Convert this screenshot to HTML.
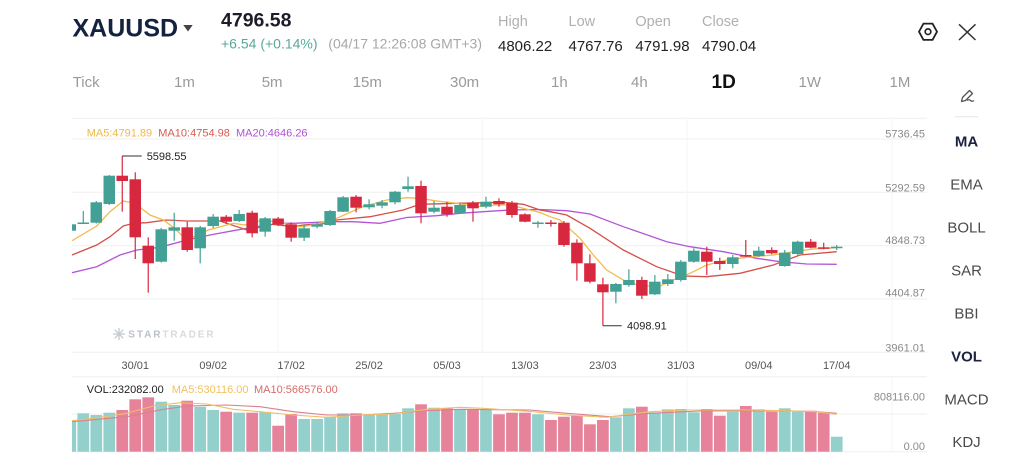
<!DOCTYPE html>
<html><head><meta charset="utf-8"><style>
html,body{margin:0;padding:0;background:#fff;width:1024px;height:471px;overflow:hidden}
svg{display:block}
text{font-family:"Liberation Sans",sans-serif}
</style></head><body>
<svg width="1024" height="471" viewBox="0 0 1024 471" xmlns="http://www.w3.org/2000/svg">
<defs>
<clipPath id="cp"><rect x="72" y="118" width="808" height="240"/></clipPath>
<clipPath id="cv"><rect x="72" y="377" width="808" height="75"/></clipPath>
</defs>
<rect width="1024" height="471" fill="#fff"/>

<!-- Header -->
<text x="72.5" y="36.7" font-size="25" font-weight="700" fill="#14213f">XAUUSD</text>
<polygon points="183.3,25 192.7,25 188,31.5" fill="#444"/>
<text x="221" y="26.7" font-size="19.5" font-weight="700" fill="#1c1c2a">4796.58</text>
<text x="221" y="48.5" font-size="14" fill="#58aa98">+6.54 (+0.14%)</text>
<text x="328.3" y="48.5" font-size="14" fill="#a8a8a8">(04/17 12:26:08 GMT+3)</text>
<g font-size="14.5" fill="#b0b0b0">
<text x="498" y="26">High</text><text x="568.5" y="26">Low</text><text x="635.4" y="26">Open</text><text x="702" y="26">Close</text>
</g>
<g font-size="15" fill="#222">
<text x="498" y="51">4806.22</text><text x="568.5" y="51">4767.76</text><text x="635.4" y="51">4791.98</text><text x="702" y="51">4790.04</text>
</g>
<polygon points="919,31.7 923.5,23.6 932.5,23.6 937,31.7 932.5,39.9 923.5,39.9" fill="none" stroke="#222" stroke-width="1.8" stroke-linejoin="round"/>
<circle cx="928" cy="31.7" r="2.8" fill="none" stroke="#222" stroke-width="1.7"/>
<g stroke="#333" stroke-width="1.5"><line x1="959" y1="24.3" x2="975.5" y2="40"/><line x1="975.5" y1="24.3" x2="959" y2="40"/></g>

<!-- timeframes -->
<g font-size="15" fill="#9a9a9a">
<text x="72.7" y="87">Tick</text><text x="174" y="87">1m</text><text x="261.7" y="87">5m</text><text x="352.7" y="87">15m</text><text x="450" y="87">30m</text>
<text x="551" y="87">1h</text><text x="631" y="87">4h</text><text x="798.5" y="87">1W</text><text x="889.5" y="87">1M</text>
</g>
<text x="711.5" y="88" font-size="19" font-weight="700" fill="#111">1D</text>
<!-- pen icon -->
<g fill="none" stroke="#555" stroke-width="1.3" stroke-linejoin="round">
<path d="M961.5,101.5 L962.5,97.5 L969.5,90.5 L972.5,93.5 L965.5,100.5 Z"/>
<path d="M967,100.5 q2,-1.5 3.5,0 q1.5,1.5 3.5,0"/>
</g>
<line x1="955" y1="116.7" x2="978" y2="116.7" stroke="#e6e6e6" stroke-width="1"/>

<!-- sidebar -->
<g font-size="15" fill="#4a4a4a" text-anchor="middle">
<text x="966.5" y="146.6" font-weight="700" fill="#1b2340">MA</text>
<text x="966.5" y="189.5">EMA</text>
<text x="966.5" y="232.5">BOLL</text>
<text x="966.5" y="275.4">SAR</text>
<text x="966.5" y="318.4">BBI</text>
<text x="966.5" y="361.3" font-weight="700" fill="#1b2340">VOL</text>
<text x="966.5" y="404.3">MACD</text>
<text x="966.5" y="447.2">KDJ</text>
</g>

<!-- grid -->
<g stroke="#efefef" stroke-width="1">
<line x1="72" y1="118.3" x2="927" y2="118.3"/>
<line x1="72" y1="139" x2="927" y2="139"/>
<line x1="72" y1="192.3" x2="927" y2="192.3"/>
<line x1="72" y1="245.7" x2="927" y2="245.7"/>
<line x1="72" y1="299" x2="927" y2="299"/>
<line x1="72" y1="352.3" x2="927" y2="352.3"/>
<line x1="72" y1="376.7" x2="927" y2="376.7"/>
<line x1="72" y1="414" x2="927" y2="414"/>
<line x1="72" y1="451.7" x2="927" y2="451.7"/>
</g>
<g stroke="#f4f4f4" stroke-width="1">
<line x1="278" y1="118" x2="278" y2="352"/><line x1="482.3" y1="118" x2="482.3" y2="352"/><line x1="687" y1="118" x2="687" y2="352"/><line x1="892" y1="118" x2="892" y2="352"/>
<line x1="278" y1="377" x2="278" y2="452"/><line x1="482.3" y1="377" x2="482.3" y2="452"/><line x1="687" y1="377" x2="687" y2="452"/><line x1="892" y1="377" x2="892" y2="452"/>
</g>

<!-- price axis -->
<g font-size="11" fill="#8a8a8a" text-anchor="end">
<text x="925" y="137.3">5736.45</text><text x="925" y="191.3">5292.59</text><text x="925" y="244">4848.73</text><text x="925" y="296.7">4404.87</text><text x="925" y="351.3">3961.01</text>
<text x="925" y="400.7">808116.00</text><text x="925" y="450">0.00</text>
</g>
<!-- x axis -->
<g font-size="11" fill="#555" text-anchor="middle">
<text x="135.25" y="369">30/01</text><text x="213.19" y="369">09/02</text><text x="291.13" y="369">17/02</text><text x="369.07" y="369">25/02</text><text x="447.01" y="369">05/03</text>
<text x="524.95" y="369">13/03</text><text x="602.89" y="369">23/03</text><text x="680.83" y="369">31/03</text><text x="758.77" y="369">09/04</text><text x="836.71" y="369">17/04</text>
</g>

<!-- MA legend -->
<g font-size="11">
<text x="86.7" y="136.3" fill="#f0b849">MA5:4791.89</text>
<text x="158.3" y="136.3" fill="#d65a50">MA10:4754.98</text>
<text x="236" y="136.3" fill="#b050d4">MA20:4646.26</text>
</g>

<!-- watermark -->
<g stroke="#c3cad2" stroke-width="1.3" stroke-linecap="round">
<line x1="119" y1="328.5" x2="119" y2="339.5"/><line x1="113.5" y1="334" x2="124.5" y2="334"/>
<line x1="115.1" y1="330.1" x2="122.9" y2="337.9"/><line x1="122.9" y1="330.1" x2="115.1" y2="337.9"/>
</g>
<text x="128.3" y="337.7" font-size="10" font-weight="700" letter-spacing="1.9"><tspan fill="#b9c1c9">STAR</tspan><tspan fill="#d6dbe0">TRADER</tspan></text>

<g clip-path="url(#cp)">
<!-- MA lines -->
<polyline fill="none" stroke="#b455d8" stroke-width="1.3" points="72,272.7 96.7,266.7 120,255 136.7,250 160,247.3 186.7,240 210,235 233.3,230.7 260,226 280,223.3 293.3,223.3 333.3,221.7 353.3,221.7 380,223.3 406.7,217.5 436.7,215.7 460,213.3 483.3,211.7 510,210 540,209.5 566.7,210.7 590,214 623.3,226.7 666.7,241.7 690,246.7 723.3,251.7 756.7,258.3 780,261.7 806.7,264 836.7,264.3"/>
<polyline fill="none" stroke="#d4504a" stroke-width="1.3" points="72,255 96.7,245 110,236.7 123.3,226 133.3,223.3 146.7,222.7 166.7,220 186.7,221 206.7,221 220,221 246.7,230 273.3,224.3 293.3,226.7 303.3,225 326.7,223.3 336.7,220 370,216.7 403.3,210 420,204.3 456.7,203.3 503.3,202.3 523.3,204.3 540,210 550,211.7 566.7,215 590,228.3 623.3,250 656.7,266.7 683.3,276 706.7,276.7 740,273.3 773.3,265 800,255 836.7,251.7"/>
<polyline fill="none" stroke="#f2bb4a" stroke-width="1.3" points="72,240.7 96.7,226 110,211.7 123.3,201 135,203.3 150,215 163.3,220 173.3,227.3 186.7,240 208.3,230 233.3,223.3 245,225 260,220.7 280,221.7 293.3,226.7 303.3,226.7 326.7,221.7 336.7,218.3 362,207 386.7,200 406.7,197.7 420,198.3 436.7,201 456.7,203.3 476.7,206.7 496.7,205 510,205 530,210 540,212.5 550,216.7 560,220 580,238.3 593.3,255 606.7,270 623.3,280 640,286 660,286 673.3,280 690,273.3 706.7,265 726.7,260 746.7,257.3 773.3,255 793.3,251.7 813.3,249 836.7,247.7"/>

<!-- teal wicks -->
<g stroke="#43a095" stroke-width="1.2">
<line x1="70.3" y1="222" x2="70.3" y2="232"/><line x1="83.29" y1="211" x2="83.29" y2="224"/><line x1="96.28" y1="201" x2="96.28" y2="223.5"/><line x1="109.27" y1="175" x2="109.27" y2="205"/>
<line x1="161.23" y1="228" x2="161.23" y2="262.5"/><line x1="174.22" y1="212.7" x2="174.22" y2="240.7"/><line x1="200.2" y1="226" x2="200.2" y2="263.3"/><line x1="213.19" y1="214" x2="213.19" y2="228"/>
<line x1="239.17" y1="210" x2="239.17" y2="222"/><line x1="265.15" y1="217" x2="265.15" y2="236.7"/><line x1="304.12" y1="224.3" x2="304.12" y2="241"/><line x1="317.11" y1="221.7" x2="317.11" y2="228.3"/>
<line x1="330.1" y1="210" x2="330.1" y2="226"/><line x1="343.09" y1="196" x2="343.09" y2="212"/><line x1="369.07" y1="199.3" x2="369.07" y2="209.3"/><line x1="382.06" y1="200" x2="382.06" y2="208.3"/>
<line x1="395.05" y1="191" x2="395.05" y2="204.3"/><line x1="408.04" y1="176.7" x2="408.04" y2="191.7"/><line x1="434.02" y1="201" x2="434.02" y2="213.3"/><line x1="460" y1="203" x2="460" y2="214"/>
<line x1="485.98" y1="196.7" x2="485.98" y2="208.3"/><line x1="537.94" y1="221" x2="537.94" y2="227.7"/><line x1="615.88" y1="283" x2="615.88" y2="303.3"/><line x1="628.87" y1="269.3" x2="628.87" y2="286.7"/>
<line x1="654.85" y1="275" x2="654.85" y2="295"/><line x1="667.84" y1="274" x2="667.84" y2="286"/><line x1="680.83" y1="260" x2="680.83" y2="281.7"/><line x1="693.82" y1="248.3" x2="693.82" y2="262.7"/>
<line x1="732.79" y1="255" x2="732.79" y2="268.3"/><line x1="758.77" y1="246.7" x2="758.77" y2="257"/><line x1="784.75" y1="250" x2="784.75" y2="266.7"/><line x1="797.74" y1="240.7" x2="797.74" y2="255"/>
<line x1="836.71" y1="245" x2="836.71" y2="250"/>
</g>
<!-- red wicks -->
<g stroke="#d7283f" stroke-width="1.2">
<line x1="122.26" y1="156" x2="122.26" y2="211.7"/><line x1="135.25" y1="172.3" x2="135.25" y2="259"/><line x1="148.24" y1="237.3" x2="148.24" y2="292.7"/><line x1="187.21" y1="221.7" x2="187.21" y2="251.7"/>
<line x1="226.18" y1="215" x2="226.18" y2="224"/><line x1="252.16" y1="210.7" x2="252.16" y2="237.3"/><line x1="278.14" y1="217" x2="278.14" y2="226"/><line x1="291.13" y1="222.3" x2="291.13" y2="241.7"/>
<line x1="356.08" y1="195" x2="356.08" y2="212.3"/><line x1="421.03" y1="180.7" x2="421.03" y2="223.3"/><line x1="447.01" y1="201.7" x2="447.01" y2="216.7"/><line x1="472.99" y1="201" x2="472.99" y2="221.7"/>
<line x1="498.97" y1="198.3" x2="498.97" y2="206.7"/><line x1="511.96" y1="201" x2="511.96" y2="217.7"/><line x1="524.95" y1="213.3" x2="524.95" y2="222.3"/><line x1="550.93" y1="220" x2="550.93" y2="226.7"/>
<line x1="563.92" y1="221" x2="563.92" y2="246.7"/><line x1="576.91" y1="239.3" x2="576.91" y2="280.7"/><line x1="589.9" y1="254.3" x2="589.9" y2="283.3"/><line x1="602.89" y1="277.7" x2="602.89" y2="325.7"/>
<line x1="641.86" y1="276.7" x2="641.86" y2="299"/><line x1="706.81" y1="246.7" x2="706.81" y2="275"/><line x1="719.8" y1="257.7" x2="719.8" y2="270"/><line x1="745.78" y1="240" x2="745.78" y2="256.7"/>
<line x1="771.76" y1="247.3" x2="771.76" y2="254.3"/><line x1="810.73" y1="239" x2="810.73" y2="248.3"/><line x1="823.72" y1="242.7" x2="823.72" y2="249.3"/>
</g>
<!-- teal bodies -->
<g fill="#43a095">
<rect x="64.55" y="224.3" width="11.5" height="6.4"/><rect x="77.54" y="222.5" width="11.5" height="1.5"/><rect x="90.53" y="202.3" width="11.5" height="20.4"/><rect x="103.52" y="175.7" width="11.5" height="28.3"/>
<rect x="155.48" y="229.3" width="11.5" height="32.4"/><rect x="168.47" y="227.3" width="11.5" height="3.4"/><rect x="194.45" y="227.3" width="11.5" height="21"/><rect x="207.44" y="216.7" width="11.5" height="9.3"/>
<rect x="233.42" y="214" width="11.5" height="7"/><rect x="259.4" y="218.3" width="11.5" height="13.4"/><rect x="298.37" y="228.3" width="11.5" height="9.4"/><rect x="311.36" y="224.3" width="11.5" height="2.4"/>
<rect x="324.35" y="211" width="11.5" height="14"/><rect x="337.34" y="197.3" width="11.5" height="14.4"/><rect x="363.32" y="204.3" width="11.5" height="3"/><rect x="376.31" y="202.3" width="11.5" height="3.4"/>
<rect x="389.3" y="191.7" width="11.5" height="10.6"/><rect x="402.29" y="186.3" width="11.5" height="2.7"/><rect x="428.27" y="207.7" width="11.5" height="4"/><rect x="454.25" y="205" width="11.5" height="8.3"/>
<rect x="480.23" y="201.7" width="11.5" height="5"/><rect x="532.19" y="222.5" width="11.5" height="1.5"/><rect x="610.13" y="284" width="11.5" height="7.7"/><rect x="623.12" y="280" width="11.5" height="5"/>
<rect x="649.1" y="281.7" width="11.5" height="12.6"/><rect x="662.09" y="279.3" width="11.5" height="4.7"/><rect x="675.08" y="261.7" width="11.5" height="18.3"/><rect x="688.07" y="250.7" width="11.5" height="11"/>
<rect x="727.04" y="257.3" width="11.5" height="6.7"/><rect x="753.02" y="250.7" width="11.5" height="5.3"/><rect x="779" y="252.7" width="11.5" height="13.3"/><rect x="791.99" y="241.7" width="11.5" height="12.3"/>
<rect x="830.96" y="246.7" width="11.5" height="1.5"/>
</g>
<!-- red bodies -->
<g fill="#d7283f">
<rect x="116.51" y="175.7" width="11.5" height="5.3"/><rect x="129.5" y="179.3" width="11.5" height="58"/><rect x="142.49" y="245.7" width="11.5" height="17.6"/><rect x="181.46" y="227.3" width="11.5" height="22.7"/>
<rect x="220.43" y="216.7" width="11.5" height="5"/><rect x="246.41" y="212.7" width="11.5" height="20.6"/><rect x="272.39" y="218.5" width="11.5" height="6"/><rect x="285.38" y="224.3" width="11.5" height="13.4"/>
<rect x="350.33" y="196.7" width="11.5" height="11"/><rect x="415.28" y="186" width="11.5" height="27.3"/><rect x="441.26" y="206.7" width="11.5" height="7.6"/><rect x="467.24" y="202.7" width="11.5" height="5.6"/>
<rect x="493.22" y="201" width="11.5" height="3.3"/><rect x="506.21" y="202.7" width="11.5" height="12.3"/><rect x="519.2" y="214.3" width="11.5" height="7.4"/><rect x="545.18" y="222.5" width="11.5" height="1.5"/>
<rect x="558.17" y="222.7" width="11.5" height="22.3"/><rect x="571.16" y="242.7" width="11.5" height="20.6"/><rect x="584.15" y="263.3" width="11.5" height="18.4"/><rect x="597.14" y="284.3" width="11.5" height="8"/>
<rect x="636.11" y="280" width="11.5" height="15.7"/><rect x="701.06" y="251.7" width="11.5" height="10"/><rect x="714.05" y="261" width="11.5" height="3"/><rect x="740.03" y="255" width="11.5" height="1.7"/>
<rect x="766.01" y="250" width="11.5" height="3.3"/><rect x="804.98" y="241.7" width="11.5" height="6"/><rect x="817.97" y="247.3" width="11.5" height="1.5"/>
</g>
</g>

<!-- annotations -->
<line x1="122.26" y1="156" x2="141.7" y2="156" stroke="#333" stroke-width="1"/>
<text x="146.7" y="160" font-size="11" fill="#222">5598.55</text>
<line x1="602.89" y1="325.7" x2="621.7" y2="325.7" stroke="#333" stroke-width="1"/>
<text x="627" y="329.7" font-size="11" fill="#222">4098.91</text>

<!-- VOL legend -->
<g font-size="11">
<text x="86.7" y="393" fill="#222">VOL:232082.00</text>
<text x="171.7" y="393" fill="#f2c260">MA5:530116.00</text>
<text x="254" y="393" fill="#d86b6b">MA10:566576.00</text>
</g>

<g clip-path="url(#cv)">
<g fill="#93cfcb">
<rect x="64.45" y="420.7" width="11.7" height="31"/><rect x="77.44" y="413.3" width="11.7" height="38.4"/><rect x="90.43" y="415" width="11.7" height="36.7"/><rect x="103.42" y="412.7" width="11.7" height="39"/>
<rect x="155.38" y="401.7" width="11.7" height="50"/><rect x="168.37" y="405" width="11.7" height="46.7"/><rect x="194.35" y="406.7" width="11.7" height="45"/><rect x="207.34" y="410" width="11.7" height="41.7"/>
<rect x="233.32" y="412.7" width="11.7" height="39"/><rect x="259.3" y="412" width="11.7" height="39.7"/><rect x="298.27" y="419" width="11.7" height="32.7"/><rect x="311.26" y="419" width="11.7" height="32.7"/>
<rect x="324.25" y="416.7" width="11.7" height="35"/><rect x="337.24" y="413.3" width="11.7" height="38.4"/><rect x="363.22" y="415" width="11.7" height="36.7"/><rect x="376.21" y="414" width="11.7" height="37.7"/>
<rect x="389.2" y="414" width="11.7" height="37.7"/><rect x="402.19" y="408.3" width="11.7" height="43.4"/><rect x="428.17" y="407.7" width="11.7" height="44"/><rect x="454.15" y="410" width="11.7" height="41.7"/>
<rect x="480.13" y="410" width="11.7" height="41.7"/><rect x="532.09" y="414.3" width="11.7" height="37.4"/><rect x="610.03" y="417.3" width="11.7" height="34.4"/><rect x="623.02" y="408.3" width="11.7" height="43.4"/>
<rect x="649" y="412.3" width="11.7" height="39.4"/><rect x="661.99" y="409.3" width="11.7" height="42.4"/><rect x="674.98" y="409" width="11.7" height="42.7"/><rect x="687.97" y="412.3" width="11.7" height="39.4"/>
<rect x="726.94" y="411.7" width="11.7" height="40"/><rect x="752.92" y="409.3" width="11.7" height="42.4"/><rect x="778.9" y="408.3" width="11.7" height="43.4"/><rect x="791.89" y="411.7" width="11.7" height="40"/>
<rect x="830.86" y="436.7" width="11.7" height="15"/>
</g>
<g fill="#e6829a">
<rect x="116.41" y="410" width="11.7" height="41.7"/><rect x="129.4" y="399.3" width="11.7" height="52.4"/><rect x="142.39" y="397.3" width="11.7" height="54.4"/><rect x="181.36" y="400.7" width="11.7" height="51"/>
<rect x="220.33" y="411.7" width="11.7" height="40"/><rect x="246.31" y="412.7" width="11.7" height="39"/><rect x="272.29" y="425.7" width="11.7" height="26"/><rect x="285.28" y="414" width="11.7" height="37.7"/>
<rect x="350.23" y="413.3" width="11.7" height="38.4"/><rect x="415.18" y="404.3" width="11.7" height="47.4"/><rect x="441.16" y="408.3" width="11.7" height="43.4"/><rect x="467.14" y="409" width="11.7" height="42.7"/>
<rect x="493.12" y="414.3" width="11.7" height="37.4"/><rect x="506.11" y="412.7" width="11.7" height="39"/><rect x="519.1" y="412.7" width="11.7" height="39"/><rect x="545.08" y="420" width="11.7" height="31.7"/>
<rect x="558.07" y="416.7" width="11.7" height="35"/><rect x="571.06" y="415.7" width="11.7" height="36"/><rect x="584.05" y="424.3" width="11.7" height="27.4"/><rect x="597.04" y="420" width="11.7" height="31.7"/>
<rect x="636.01" y="406.7" width="11.7" height="45"/><rect x="700.96" y="409" width="11.7" height="42.7"/><rect x="713.95" y="415.7" width="11.7" height="36"/><rect x="739.93" y="406" width="11.7" height="45.7"/>
<rect x="765.91" y="411.7" width="11.7" height="40"/><rect x="804.88" y="410.7" width="11.7" height="41"/><rect x="817.87" y="412.7" width="11.7" height="39"/>
</g>
<polyline fill="none" stroke="#d9808f" stroke-width="1.1" points="72,421.7 126.7,416.7 160,410 186.7,406 226.7,405 260,406.7 293.3,411.7 326.7,415 360,415 393.3,413.3 426.7,410.7 460,409.3 530,410 566.7,413.3 610,416.7 650,413.3 700,411 783.3,410.7 816.7,411.7 836.7,413.3"/>
<polyline fill="none" stroke="#efbf68" stroke-width="1.1" points="72,420.7 93.3,418.3 126.7,413.3 153.3,406 180,402.7 206.7,404 233.3,409.3 260,411.7 293.3,415 326.7,417.3 360,415 393.3,414 426.7,409.3 460,407.3 483.3,408.3 533.3,411.7 566.7,415 606.7,417.3 623.3,415 650,411.7 683.3,410 716.7,410 750,410 783.3,410.7 816.7,411.7 836.7,414.3"/>
</g>
</svg>
</body></html>
